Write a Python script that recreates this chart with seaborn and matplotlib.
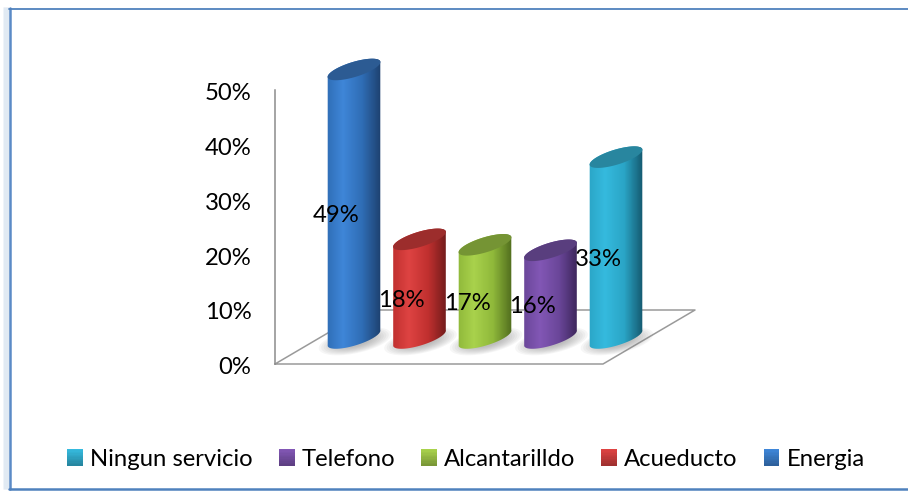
import numpy as np
import pandas as pd
import seaborn as sns
from matplotlib import pyplot as plt
from matplotlib.colors import LinearSegmentedColormap, to_rgb
from matplotlib.legend_handler import HandlerBase
from matplotlib.lines import Line2D
from matplotlib.patches import PathPatch, Rectangle
from matplotlib.path import Path
from matplotlib.ticker import PercentFormatter
from matplotlib.transforms import ScaledTranslation

W, H = 908, 491

servicios = ["Energia", "Acueducto", "Alcantarilldo", "Telefono", "Ningun servicio"]
porcentajes = [49, 18, 17, 16, 33]
colores = ["#2f6db5", "#c0302f", "#8fb83a", "#6a4699", "#2aa5c6"]
claros = ["#3f86d8", "#de4342", "#a9d24c", "#8257b5", "#35bade"]
oscuros = ["#1d3f6c", "#6c1a1a", "#4e6a1d", "#3a2457", "#14566c"]
ticks_y = [0, 10, 20, 30, 40, 50]

sns.set_theme(style="white")
plt.rcParams["font.family"] = ["Lato", "DejaVu Sans"]
FS = 17.2

data = pd.DataFrame({"servicio": servicios, "valor": porcentajes})

fig = plt.figure(figsize=(W / 100, H / 100), dpi=100, facecolor="white")


def fx(px):
    return px / W


def fy(py):
    return 1 - py / H


# marco del grafico
for i in range(6):
    fig.add_artist(Line2D([fx(9 - i)] * 2, [fy(8), fy(489)], color="#4f81bd", alpha=0.10, lw=1.2))
fig.add_artist(Line2D([fx(9.5), fx(9.5)], [fy(8), fy(489)], color="#5b8ac6", lw=1.8))
fig.add_artist(Line2D([fx(9), 1], [fy(8.5), fy(8.5)], color="#4f81bd", lw=1.3))
fig.add_artist(Line2D([fx(9), 1], [fy(488.5), fy(488.5)], color="#4f81bd", lw=1.8))

# piso, detras de las barras
piso = [(275, 364), (603, 364), (695, 310), (367, 310), (275, 364)]
fig.add_artist(Line2D([fx(p[0]) for p in piso], [fy(p[1]) for p in piso],
                      color="#9a9a9a", lw=1.1, zorder=-1))

# eje de la pared, con su propia escala 0-50
wall = fig.add_axes([fx(275), fy(364), 1 / W, 274 / H], facecolor="none")
wall.set_ylim(0, 50)
wall.set_xticks([])
wall.set_yticks(ticks_y)
wall.yaxis.set_major_formatter(PercentFormatter(decimals=0))
wall.tick_params(axis="y", length=0, pad=17, labelsize=FS, labelcolor="black")
baja = ScaledTranslation(0, -1.2 / 72, fig.dpi_scale_trans)
for lab in wall.get_yticklabels():
    lab.set_transform(lab.get_transform() + baja)
sns.despine(ax=wall, left=False, bottom=True, right=True, top=True)
wall.spines["left"].set_color("#8c8c8c")
wall.spines["left"].set_linewidth(1.1)

# barras: eje a toda la figura, misma escala px/% que la pared
ax = fig.add_axes([0, 0, 1, 1], facecolor="none")
sns.barplot(data=data, x="servicio", y="valor", hue="servicio", palette=colores,
            order=servicios, hue_order=servicios, width=0.79, legend=False, ax=ax, saturation=1)
sy = 274 / 50
sx = 65.5
ax.axis("off")


def elipse(cx, cy, a, b, ang, t):
    # cx, cy en datos; a, b en pixeles; inclinada ang grados
    r = np.radians(ang)
    dx = a * np.cos(t) * np.cos(r) - b * np.sin(t) * np.sin(r)
    dy = a * np.cos(t) * np.sin(r) + b * np.sin(t) * np.cos(r)
    return cx + dx / sx, cy + dy / sy


A, B, ANG = 27.5, 7.5, 17
for i, bar in enumerate(list(ax.patches)):
    cx = bar.get_x() + bar.get_width() / 2
    h = bar.get_height()
    bar.set_visible(False)

    # sombra en la base
    t = np.linspace(0, 2 * np.pi, 80)
    for k in np.linspace(1, 0.45, 9):
        xs, ys = elipse(cx + 1 / sx, -0.6, 37 * k, 12 * k, ANG - 5, t)
        ax.fill(xs, ys, color="#808080", alpha=0.07, lw=0, zorder=2)

    # cuerpo del cilindro con degradado horizontal
    cmap = LinearSegmentedColormap.from_list(
        "c", [(0, colores[i]), (0.3, claros[i]), (0.65, colores[i]), (1, oscuros[i])], N=128)
    bx, by = elipse(cx, 0, A, B, ANG, np.linspace(np.pi, 2 * np.pi, 50))
    tx, ty = elipse(cx, h, A, B, ANG, np.linspace(0, np.pi, 50))
    verts = np.column_stack([np.r_[bx, tx], np.r_[by, ty]])
    grad = np.linspace(0, 1, 120)[None, :]
    x0 = cx - bar.get_width() / 2 - 2 / sx
    x1 = cx + bar.get_width() / 2 + 2 / sx
    im = ax.imshow(grad, cmap=cmap, vmin=0, vmax=1, aspect="auto",
                   extent=[x0, x1, -3, h + 5], zorder=3, interpolation="bilinear")
    clip = PathPatch(Path(np.vstack([verts, verts[0]]), closed=True), transform=ax.transData,
                     facecolor="none", edgecolor="none")
    ax.add_patch(clip)
    im.set_clip_path(clip)

    # tapa
    xs, ys = elipse(cx, h, A, B, ANG, np.linspace(0, 2 * np.pi, 80))
    ax.fill(xs, ys, color=sns.dark_palette(colores[i], 5)[3], lw=0, zorder=4)

    # etiqueta
    ax.annotate(f"{porcentajes[i]}%", (cx, h / 2), xytext=(-18 * 0.72, -12 * 0.72),
                textcoords="offset points", ha="center", va="center",
                fontsize=FS, color="black", zorder=6)

ax.set_xlim(-354 / sx, (W - 354) / sx)
ax.set_ylim(-(H - 338) / sy, 338 / sy)


class CuadroDegradado(HandlerBase):
    # cuadro de leyenda con degradado vertical
    def create_artists(self, legend, orig, xd, yd, width, height, fontsize, trans):
        top = np.array(to_rgb(orig.get_facecolor()[:3]))
        piezas = []
        n = 12
        for j in range(n):
            c = top * (1 - 0.28 * j / (n - 1))
            r = Rectangle((-xd, -yd + height * (n - 1 - j) / n), width, height / n + 0.3,
                          facecolor=c, edgecolor="none", transform=trans)
            piezas.append(r)
        return piezas


# leyenda, en orden inverso
orden = [4, 3, 2, 1, 0]
handles = [Rectangle((0, 0), 1, 1, facecolor=claros[i]) for i in orden]
labels = [servicios[i] for i in orden]
fig.legend(handles, labels, ncol=5, loc="center", bbox_to_anchor=(fx(466), fy(459.5)),
           frameon=False, fontsize=FS, handlelength=0.66, handleheight=0.66,
           handletextpad=0.3, columnspacing=1.08, labelcolor="black",
           handler_map={Rectangle: CuadroDegradado()})

fig.savefig("out.png", dpi=100)
